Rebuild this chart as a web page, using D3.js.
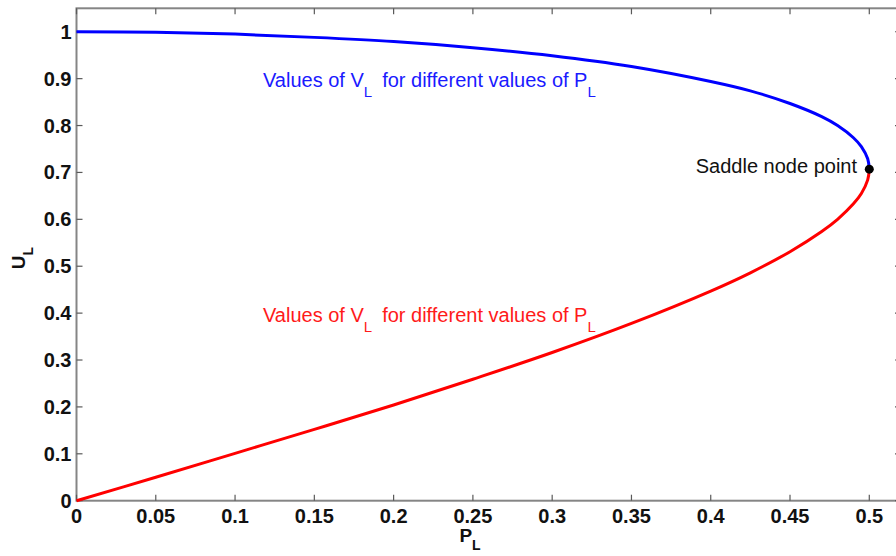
<!DOCTYPE html>
<html>
<head>
<meta charset="utf-8">
<script src="https://cdn.jsdelivr.net/npm/d3@7"></script>
<style>
  html, body { margin: 0; padding: 0; background: #fff; }
  svg { display: block; }
  text { font-family: "Liberation Sans", Arial, sans-serif; }
</style>
</head>
<body>
<svg id="chart" width="896" height="556"></svg>
<script>
// Load power P_L (per unit) along the PV nose curve
const upperP = [0, 0.05, 0.1, 0.15, 0.2, 0.25, 0.3, 0.35, 0.4, 0.425, 0.45, 0.47, 0.48, 0.49, 0.495, 0.499, 0.5];
// Upper (stable) voltage branch
const upperV = [1.0, 0.999, 0.995, 0.988, 0.979, 0.966, 0.949, 0.926, 0.894, 0.874, 0.847, 0.819, 0.800, 0.774, 0.755, 0.729, 0.707];
const lowerP = [0, 0.05, 0.1, 0.15, 0.2, 0.25, 0.3, 0.35, 0.4, 0.425, 0.45, 0.47, 0.48, 0.49, 0.495, 0.499, 0.5];
// Lower (unstable) voltage branch
const lowerV = [0.0, 0.050, 0.101, 0.152, 0.204, 0.259, 0.316, 0.378, 0.447, 0.486, 0.531, 0.574, 0.600, 0.633, 0.655, 0.684, 0.707];
// Saddle node (nose) point
const noseP = 0.5, noseV = 0.707;

const xTicks = [0, 0.05, 0.1, 0.15, 0.2, 0.25, 0.3, 0.35, 0.4, 0.45, 0.5];
const yTicks = [0, 0.1, 0.2, 0.3, 0.4, 0.5, 0.6, 0.7, 0.8, 0.9, 1];
const labelText = "Values of V";
const labelSub = "L";
const labelRest = "for different values of P";

const svg = d3.select("#chart");
const x = d3.scaleLinear().domain([0, 0.52]).range([76.5, 901]);
const y = d3.scaleLinear().domain([0, 1.05]).range([500.7, 8.3]);

const axisColor = "#858585";
const tickLen = 6;
const fmt = d => (d === 0 ? "0" : String(+d.toFixed(2)));

// Frame
const [x0, x1] = x.range();
const [yb, yt] = y.range();
svg.append("rect")
  .attr("x", x0).attr("y", yt)
  .attr("width", x1 - x0).attr("height", yb - yt)
  .attr("fill", "none").attr("stroke", axisColor).attr("stroke-width", 2);

// Ticks (inward, mirrored on opposite sides)
const tk = svg.append("g").attr("stroke", "#5a5a5a").attr("stroke-width", 1.2);
xTicks.forEach(t => {
  tk.append("line").attr("x1", x(t)).attr("x2", x(t)).attr("y1", yb).attr("y2", yb - tickLen);
  tk.append("line").attr("x1", x(t)).attr("x2", x(t)).attr("y1", yt).attr("y2", yt + tickLen);
});
yTicks.forEach(t => {
  tk.append("line").attr("x1", x0).attr("x2", x0 + tickLen).attr("y1", y(t)).attr("y2", y(t));
  tk.append("line").attr("x1", x1).attr("x2", x1 - tickLen).attr("y1", y(t)).attr("y2", y(t));
});

// Tick labels
svg.append("g").selectAll("text").data(xTicks).join("text")
  .attr("x", d => x(d)).attr("y", yb + 22)
  .attr("text-anchor", "middle")
  .attr("font-size", 20).attr("font-weight", "bold").attr("fill", "#111")
  .text(fmt);
svg.append("g").selectAll("text").data(yTicks).join("text")
  .attr("x", x0 - 5).attr("y", d => y(d))
  .attr("dy", "0.35em")
  .attr("text-anchor", "end")
  .attr("font-size", 20).attr("font-weight", "bold").attr("fill", "#111")
  .text(fmt);

// Axis titles
const xt = svg.append("text")
  .attr("x", 470).attr("y", 542)
  .attr("text-anchor", "middle")
  .attr("font-size", 19).attr("font-weight", "bold").attr("fill", "#111");
xt.append("tspan").text("P");
xt.append("tspan").attr("font-size", 14).attr("dy", 8).text("L");

const yt2 = svg.append("text")
  .attr("transform", "translate(25,258) rotate(-90)")
  .attr("text-anchor", "middle")
  .attr("font-size", 19).attr("font-weight", "bold").attr("fill", "#111");
yt2.append("tspan").text("U");
yt2.append("tspan").attr("font-size", 14).attr("dy", 8).text("L");

// Curves
const line = d3.line()
  .x(d => x(d[0])).y(d => y(d[1]))
  .curve(d3.curveCatmullRom.alpha(0.5));

svg.append("path")
  .datum(upperP.map((p, i) => [p, upperV[i]]))
  .attr("d", line)
  .attr("fill", "none").attr("stroke", "#0000ff").attr("stroke-width", 3);

svg.append("path")
  .datum(lowerP.map((p, i) => [p, lowerV[i]]))
  .attr("d", line)
  .attr("fill", "none").attr("stroke", "#ff0000").attr("stroke-width", 3);

svg.append("circle")
  .attr("cx", x(noseP)).attr("cy", y(noseV)).attr("r", 4.5)
  .attr("fill", "#000");

// Annotations
function branchLabel(px, py, color) {
  const t = svg.append("text")
    .attr("x", px).attr("y", py)
    .attr("font-size", 20).attr("fill", color);
  t.append("tspan").text(labelText);
  t.append("tspan").attr("font-size", 15).attr("dy", 10).text(labelSub);
  t.append("tspan").attr("dy", -10).attr("dx", 10).text(labelRest);
  t.append("tspan").attr("font-size", 15).attr("dy", 10).text(labelSub);
}
branchLabel(263, 87, "#1a1aff");
branchLabel(263, 322, "#ff1a1a");

svg.append("text")
  .attr("x", 857).attr("y", 173)
  .attr("text-anchor", "end")
  .attr("font-size", 20).attr("fill", "#111")
  .text("Saddle node point");
</script>
</body>
</html>
